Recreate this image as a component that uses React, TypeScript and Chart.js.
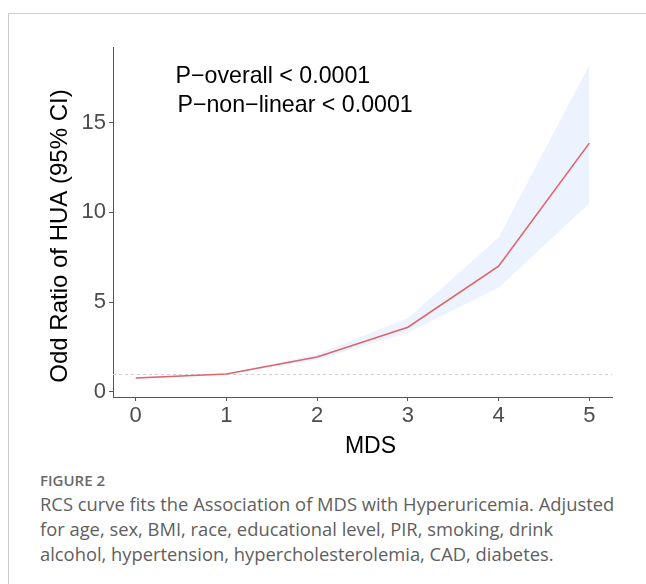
import React, { useEffect, useRef } from "react";
import { Chart, registerables } from "chart.js";

Chart.register(...registerables);

// ---- data ----
const mds = [0, 1, 2, 3, 4, 5];
const oddsRatio = [0.78, 1.0, 1.95, 3.6, 7.0, 13.85];
const ciLower = [0.72, 1.0, 1.8, 3.3, 5.8, 10.5];
const ciUpper = [0.84, 1.0, 2.1, 4.1, 8.6, 18.2];
const xTicks = [0, 1, 2, 3, 4, 5];
const yTicks = [0, 5, 10, 15];
const refValue = 1;
const annotationTexts = ["P\u2212overall < 0.0001", "P\u2212non\u2212linear < 0.0001"];
const annotationX = [0.44, 0.46];
const annotationY = [17.2, 15.6];
const xTitle = "MDS";
const yTitle = "Odd Ratio of HUA (95% CI)";
const figureLabel = "FIGURE 2";
const captionLines = [
  "RCS curve fits the Association of MDS with Hyperuricemia. Adjusted",
  "for age, sex, BMI, race, educational level, PIR, smoking, drink",
  "alcohol, hypertension, hypercholesterolemia, CAD, diabetes.",
];

const FONT = "'Liberation Sans', Arial, Helvetica, sans-serif";

const overlayPlugin = {
  id: "overlay",
  beforeDatasetsDraw(chart: any) {
    const { ctx, chartArea, scales } = chart;
    const y = scales.y.getPixelForValue(refValue);
    ctx.save();
    ctx.strokeStyle = "#cfcfcf";
    ctx.lineWidth = 1;
    ctx.setLineDash([3, 3]);
    ctx.beginPath();
    ctx.moveTo(chartArea.left, Math.round(y) + 0.5);
    ctx.lineTo(chartArea.right, Math.round(y) + 0.5);
    ctx.stroke();
    ctx.restore();
  },
  afterDraw(chart: any) {
    const { ctx, chartArea, scales } = chart;
    ctx.save();
    ctx.fillStyle = "#000";
    ctx.textAlign = "left";
    ctx.textBaseline = "alphabetic";
    ctx.font = `23.2px ${FONT}`;
    annotationTexts.forEach((t, i) => {
      ctx.fillText(t, scales.x.getPixelForValue(annotationX[i]), scales.y.getPixelForValue(annotationY[i]));
    });
    // x title
    ctx.textAlign = "center";
    ctx.textBaseline = "middle";
    ctx.font = `23px ${FONT}`;
    ctx.fillText(xTitle, (chartArea.left + chartArea.right) / 2 + 8, chartArea.bottom + 50);
    // y title
    ctx.translate(chartArea.left - 53, (chartArea.top + chartArea.bottom) / 2 + 14);
    ctx.rotate(-Math.PI / 2);
    ctx.font = `24px ${FONT}`;
    ctx.fillText(yTitle, 0, 0);
    ctx.restore();
  },
};

export default function App() {
  const canvasRef = useRef<HTMLCanvasElement | null>(null);

  useEffect(() => {
    const canvas = canvasRef.current;
    if (!canvas) return;
    const chart = new Chart(canvas, {
      type: "line",
      data: {
        datasets: [
          {
            label: "lower",
            data: mds.map((x, i) => ({ x, y: ciLower[i] })),
            borderWidth: 0,
            borderColor: "rgba(0,0,0,0)",
            pointRadius: 0,
            fill: false,
            order: 2,
          },
          {
            label: "upper",
            data: mds.map((x, i) => ({ x, y: ciUpper[i] })),
            borderWidth: 0,
            borderColor: "rgba(0,0,0,0)",
            backgroundColor: "#ECF3FE",
            pointRadius: 0,
            fill: "-1",
            order: 1,
          },
          {
            label: "OR",
            data: mds.map((x, i) => ({ x, y: oddsRatio[i] })),
            borderColor: "#E0646A",
            borderWidth: 1.6,
            pointRadius: 0,
            fill: false,
            order: 0,
          },
        ],
      },
      options: {
        animation: false,
        responsive: false,
        maintainAspectRatio: false,
        layout: { padding: { left: 0, top: 47, right: 34, bottom: 0 } },
        plugins: { legend: { display: false }, tooltip: { enabled: false } },
        scales: {
          x: {
            type: "linear",
            min: -0.25,
            max: 5.25,
            afterBuildTicks: (s: any) => {
              s.ticks = xTicks.map((v) => ({ value: v }));
            },
            afterFit: (s: any) => {
              s.height = 73;
            },
            ticks: {
              font: { family: FONT, size: 22 },
              color: "#4D4D4D",
              padding: 2,
            },
            grid: { drawOnChartArea: false, drawTicks: true, tickLength: 4, color: "#555" },
            border: { display: true, color: "#555", width: 1 },
          },
          y: {
            type: "linear",
            min: -0.28,
            max: 19.2,
            afterBuildTicks: (s: any) => {
              s.ticks = yTicks.map((v) => ({ value: v }));
            },
            afterFit: (s: any) => {
              s.width = 113;
            },
            ticks: {
              font: { family: FONT, size: 22 },
              color: "#4D4D4D",
              padding: 3,
            },
            grid: { drawOnChartArea: false, drawTicks: true, tickLength: 4, color: "#555" },
            border: { display: true, color: "#555", width: 1 },
          },
        },
      },
      plugins: [overlayPlugin],
    });
    return () => chart.destroy();
  }, []);

  return (
    <div
      style={{
        position: "fixed",
        left: 0,
        top: 0,
        width: 646,
        height: 584,
        background: "#fff",
        overflow: "hidden",
      }}
    >
      <div
        style={{
          position: "absolute",
          left: 8,
          top: 13,
          width: 646,
          height: 600,
          borderTop: "1px solid #cccccc",
          borderLeft: "1px solid #cccccc",
        }}
      />
      <canvas
        ref={canvasRef}
        width={646}
        height={470}
        style={{ position: "absolute", left: 0, top: 0, width: 646, height: 470 }}
      />
      <div
        style={{
          position: "absolute",
          left: 40,
          top: 471,
          fontFamily: "'Open Sans', sans-serif",
          fontWeight: 600,
          fontSize: 15,
          color: "#6a6a6a",
          lineHeight: "18px",
        }}
      >
        {figureLabel}
      </div>
      <div
        style={{
          position: "absolute",
          left: 40,
          top: 491,
          fontFamily: "'Open Sans', sans-serif",
          fontSize: 18.35,
          color: "#606060",
          lineHeight: "25px",
          whiteSpace: "nowrap",
        }}
      >
        {captionLines.map((l, i) => (
          <div key={i}>{l}</div>
        ))}
      </div>
    </div>
  );
}
